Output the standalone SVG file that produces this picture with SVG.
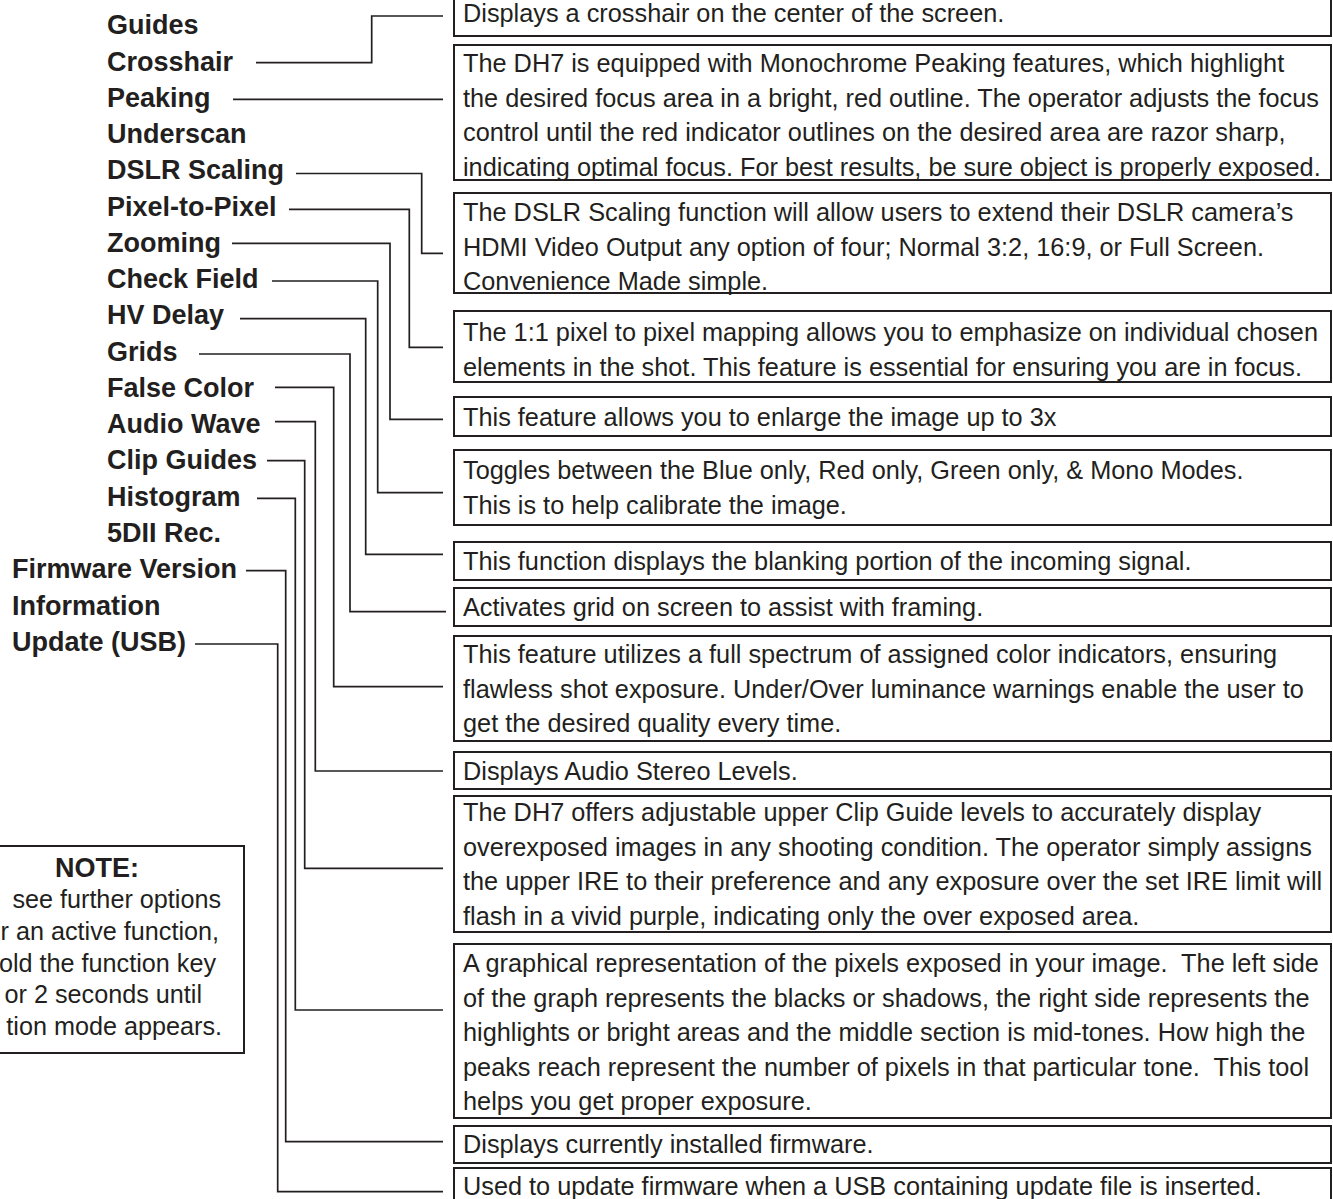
<svg xmlns="http://www.w3.org/2000/svg" width="1333" height="1199" viewBox="0 0 1333 1199">
<style>
.lbl{font-family:"Liberation Sans",Arial,sans-serif;font-weight:bold;font-size:27px;fill:#231f20}
.desc{font-family:"Liberation Sans",Arial,sans-serif;font-size:25.3px;fill:#231f20;white-space:pre}
.note{font-family:"Liberation Sans",Arial,sans-serif;font-size:25.2px;fill:#231f20}
.box{fill:#fff;stroke:#231f20;stroke-width:2}
.conn path{fill:none;stroke:#231f20;stroke-width:1.7}
</style>
<rect width="1333" height="1199" fill="#fff"/>

<g id="labels">
<g id="lbl-guides"><text class="lbl" x="107" y="34.3">Guides</text></g>
<g id="lbl-crosshair"><text class="lbl" x="107" y="70.6">Crosshair</text></g>
<g id="lbl-peaking"><text class="lbl" x="107" y="106.8">Peaking</text></g>
<g id="lbl-underscan"><text class="lbl" x="107" y="143.1">Underscan</text></g>
<g id="lbl-dslr"><text class="lbl" x="107" y="179.3">DSLR Scaling</text></g>
<g id="lbl-pixel"><text class="lbl" x="107" y="215.6">Pixel-to-Pixel</text></g>
<g id="lbl-zooming"><text class="lbl" x="107" y="251.9">Zooming</text></g>
<g id="lbl-checkfield"><text class="lbl" x="107" y="288.1">Check Field</text></g>
<g id="lbl-hvdelay"><text class="lbl" x="107" y="324.4">HV Delay</text></g>
<g id="lbl-grids"><text class="lbl" x="107" y="360.6">Grids</text></g>
<g id="lbl-falsecolor"><text class="lbl" x="107" y="396.9">False Color</text></g>
<g id="lbl-audiowave"><text class="lbl" x="107" y="433.2">Audio Wave</text></g>
<g id="lbl-clipguides"><text class="lbl" x="107" y="469.4">Clip Guides</text></g>
<g id="lbl-histogram"><text class="lbl" x="107" y="505.7">Histogram</text></g>
<g id="lbl-5dii"><text class="lbl" x="107" y="541.9">5DII Rec.</text></g>
<g id="lbl-firmware"><text class="lbl" x="12" y="578.2">Firmware Version</text></g>
<g id="lbl-information"><text class="lbl" x="12" y="614.5">Information</text></g>
<g id="lbl-update"><text class="lbl" x="12" y="650.7">Update (USB)</text></g>
</g>

<g id="connectors" class="conn">
<path d="M256 62.7H371.7V16H443"/>
<path d="M233 99.3H443"/>
<path d="M296 173.5H421.7V253.3H443"/>
<path d="M289 209.3H409.3V347.3H443"/>
<path d="M232 243.3H390V419.3H443"/>
<path d="M272 281H377.7V492.7H443"/>
<path d="M240 318.7H365.7V554.3H443"/>
<path d="M199 354H350V611.7H446"/>
<path d="M275 387.3H333.7V686.7H443"/>
<path d="M275 421.7H315.3V771H443"/>
<path d="M267 460.7H304.7V868.3H443"/>
<path d="M257 498.3H295.3V1010H443"/>
<path d="M246 570.7H285.7V1141.7H443"/>
<path d="M195 644H277.7V1191.7H443"/>
</g>

<g id="box-crosshair"><rect class="box" x="454" y="-4" width="877" height="40"/>
<text class="desc" x="463" y="22">Displays a crosshair on the center of the screen.</text></g>

<g id="box-peaking"><rect class="box" x="454" y="45" width="877" height="135"/>
<text class="desc" x="463" y="72">The DH7 is equipped with Monochrome Peaking features, which highlight</text>
<text class="desc" x="463" y="106.5">the desired focus area in a bright, red outline. The operator adjusts the focus</text>
<text class="desc" x="463" y="141">control until the red indicator outlines on the desired area are razor sharp,</text>
<text class="desc" x="463" y="175.5">indicating optimal focus. For best results, be sure object is properly exposed.</text></g>

<g id="box-dslr"><rect class="box" x="454" y="193" width="877" height="100"/>
<text class="desc" x="463" y="221">The DSLR Scaling function will allow users to extend their DSLR camera’s</text>
<text class="desc" x="463" y="255.5">HDMI Video Output any option of four; Normal 3:2, 16:9, or Full Screen.</text>
<text class="desc" x="463" y="290">Convenience Made simple.</text></g>

<g id="box-pixel"><rect class="box" x="454" y="311" width="877" height="71"/>
<text class="desc" x="463" y="341">The 1:1 pixel to pixel mapping allows you to emphasize on individual chosen</text>
<text class="desc" x="463" y="375.5">elements in the shot. This feature is essential for ensuring you are in focus.</text></g>

<g id="box-zooming"><rect class="box" x="454" y="397" width="877" height="39"/>
<text class="desc" x="463" y="426">This feature allows you to enlarge the image up to 3x</text></g>

<g id="box-checkfield"><rect class="box" x="454" y="450" width="877" height="75"/>
<text class="desc" x="463" y="479">Toggles between the Blue only, Red only, Green only, &amp; Mono Modes.</text>
<text class="desc" x="463" y="513.5">This is to help calibrate the image.</text></g>

<g id="box-hvdelay"><rect class="box" x="454" y="542" width="877" height="38"/>
<text class="desc" x="463" y="570">This function displays the blanking portion of the incoming signal.</text></g>

<g id="box-grids"><rect class="box" x="454" y="588" width="877" height="38"/>
<text class="desc" x="463" y="616">Activates grid on screen to assist with framing.</text></g>

<g id="box-falsecolor"><rect class="box" x="454" y="636" width="877" height="105"/>
<text class="desc" x="463" y="663">This feature utilizes a full spectrum of assigned color indicators, ensuring</text>
<text class="desc" x="463" y="697.5">flawless shot exposure. Under/Over luminance warnings enable the user to</text>
<text class="desc" x="463" y="732">get the desired quality every time.</text></g>

<g id="box-audiowave"><rect class="box" x="454" y="752" width="877" height="37"/>
<text class="desc" x="463" y="780">Displays Audio Stereo Levels.</text></g>

<g id="box-clipguides"><rect class="box" x="454" y="796" width="877" height="136"/>
<text class="desc" x="463" y="821">The DH7 offers adjustable upper Clip Guide levels to accurately display</text>
<text class="desc" x="463" y="855.5">overexposed images in any shooting condition. The operator simply assigns</text>
<text class="desc" x="463" y="890">the upper IRE to their preference and any exposure over the set IRE limit will</text>
<text class="desc" x="463" y="924.5">flash in a vivid purple, indicating only the over exposed area.</text></g>

<g id="box-histogram"><rect class="box" x="454" y="944" width="877" height="174"/>
<text class="desc" x="463" y="972">A graphical representation of the pixels exposed in your image.  The left side</text>
<text class="desc" x="463" y="1006.5">of the graph represents the blacks or shadows, the right side represents the</text>
<text class="desc" x="463" y="1041">highlights or bright areas and the middle section is mid-tones. How high the</text>
<text class="desc" x="463" y="1075.5">peaks reach represent the number of pixels in that particular tone.  This tool</text>
<text class="desc" x="463" y="1110">helps you get proper exposure.</text></g>

<g id="box-firmware"><rect class="box" x="454" y="1126" width="877" height="37"/>
<text class="desc" x="463" y="1153">Displays currently installed firmware.</text></g>

<g id="box-update"><rect class="box" x="454" y="1168" width="877" height="42"/>
<text class="desc" x="463" y="1195">Used to update firmware when a USB containing update file is inserted.</text></g>

<g id="note">
<rect class="box" x="-10" y="846" width="254" height="207"/>
<text class="lbl" x="97" y="876.5" text-anchor="middle">NOTE:</text>
<text class="note" x="221" y="908" text-anchor="end">see further options</text>
<text class="note" x="219" y="940" text-anchor="end">r an active function,</text>
<text class="note" x="216" y="971.5" text-anchor="end">old the function key</text>
<text class="note" x="202" y="1003" text-anchor="end">or 2 seconds until</text>
<text class="note" x="222" y="1035" text-anchor="end">tion mode appears.</text>
</g>
</svg>
